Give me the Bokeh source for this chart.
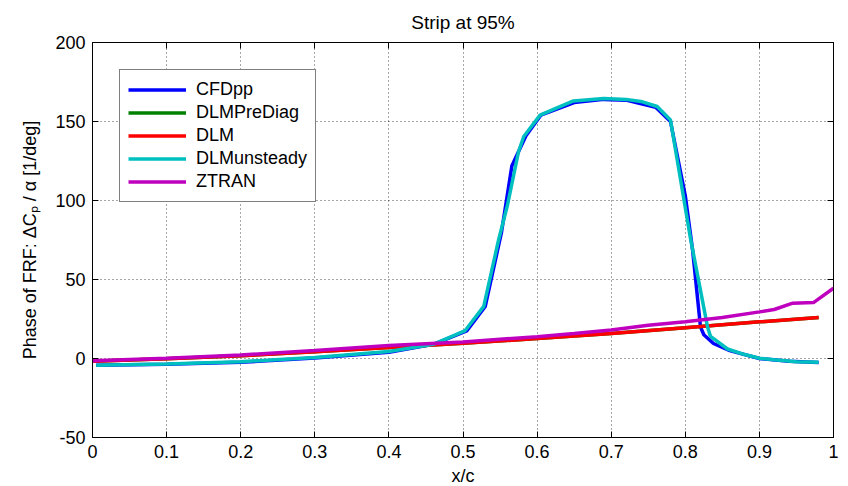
from bokeh.plotting import figure
from bokeh.models import Range1d, LinearAxis, FixedTicker, Legend
from bokeh.embed import file_html
from bokeh.resources import INLINE

FONT = "Liberation Sans"

# axis ticks
x_ticks = [0, 0.1, 0.2, 0.3, 0.4, 0.5, 0.6, 0.7, 0.8, 0.9, 1.0]
x_tick_labels = ["0", "0.1", "0.2", "0.3", "0.4", "0.5", "0.6", "0.7", "0.8", "0.9", "1"]
y_ticks = [-50, 0, 50, 100, 150, 200]
y_tick_labels = ["-50", "0", "50", "100", "150", "200"]

# CFDpp phase along the strip
cfd_x = [0.005, 0.1, 0.2, 0.3, 0.4, 0.46, 0.505, 0.53, 0.552, 0.566, 0.585, 0.605,
         0.65, 0.69, 0.72, 0.76, 0.78, 0.80, 0.81, 0.8205, 0.825, 0.838, 0.86,
         0.90, 0.94, 0.98]
cfd_y = [-4.2, -3.6, -2.4, 0.3, 4.0, 9.0, 17.5, 33.0, 80.0, 122.0, 141.0, 154.0,
         162.0, 164.0, 163.5, 159.0, 150.0, 103.0, 68.0, 20.0, 15.0, 9.5, 5.0,
         0.0, -1.8, -2.5]

# DLM (pre-diagonalised) phase
dlmpre_x = [0.0, 0.1, 0.2, 0.3, 0.4, 0.5, 0.6, 0.7, 0.8, 0.9, 0.98]
dlmpre_y = [-1.8, -0.2, 1.8, 4.2, 7.0, 9.6, 12.6, 15.8, 19.4, 23.2, 26.0]

# DLM phase
dlm_x = [0.0, 0.1, 0.2, 0.3, 0.4, 0.5, 0.6, 0.7, 0.8, 0.9, 0.98]
dlm_y = [-1.8, -0.2, 1.8, 4.2, 7.0, 9.6, 12.6, 15.8, 19.4, 23.2, 26.0]

# unsteady DLM phase
dlmu_x = [0.005, 0.1, 0.2, 0.27, 0.3, 0.4, 0.46, 0.503, 0.528, 0.548, 0.56, 0.575,
          0.582, 0.604, 0.649, 0.69, 0.72, 0.74, 0.762, 0.78, 0.807, 0.83, 0.834,
          0.857, 0.88, 0.90, 0.92, 0.95, 0.98]
dlmu_y = [-4.3, -3.5, -2.0, -0.2, 0.6, 4.4, 9.0, 17.7, 33.0, 75.0, 97.0, 131.0,
          140.5, 154.0, 163.0, 164.5, 164.0, 162.7, 159.5, 151.0, 76.0, 20.0, 14.0,
          6.0, 2.5, 0.2, -0.8, -2.0, -2.3]

# ZTRAN phase
ztran_x = [0.0, 0.1, 0.2, 0.3, 0.4, 0.5, 0.6, 0.65, 0.7, 0.75, 0.8, 0.85, 0.9,
           0.92, 0.945, 0.973, 1.0]
ztran_y = [-1.5, 0.2, 2.2, 5.0, 8.3, 10.5, 13.8, 15.8, 18.0, 21.0, 23.3, 26.0, 29.5,
           31.0, 35.0, 35.4, 44.5]

series = [
    ("CFDpp", cfd_x, cfd_y, "#0000FF"),
    ("DLMPreDiag", dlmpre_x, dlmpre_y, "#008000"),
    ("DLM", dlm_x, dlm_y, "#FF0000"),
    ("DLMunsteady", dlmu_x, dlmu_y, "#00BFBF"),
    ("ZTRAN", ztran_x, ztran_y, "#BF00BF"),
]

p = figure(frame_width=741, frame_height=395,
           x_range=Range1d(0, 1), y_range=Range1d(-50, 200),
           output_backend="svg", toolbar_location=None,
           min_border_left=92, min_border_right=15,
           min_border_top=41, min_border_bottom=50,
           title="Strip at 95%", background_fill_color="white",
           border_fill_color="white")

p.title.align = "center"
p.title.text_font = FONT
p.title.text_font_style = "normal"
p.title.text_font_size = "19px"
p.title.text_color = "black"
p.title.standoff = 19

p.outline_line_color = "black"
p.outline_line_width = 1

renderers = []
for name, xs, ys, color in series:
    r = p.line(xs, ys, line_color=color, line_width=3.5)
    renderers.append((name, [r]))

legend = Legend(items=renderers, location=(27, 235))
legend.label_text_font = FONT
legend.label_text_font_size = "18px"
legend.label_text_color = "black"
legend.glyph_width = 58
legend.glyph_height = 23
legend.label_height = 23
legend.spacing = 0
legend.padding = 8
legend.label_standoff = 10
legend.border_line_color = "black"
legend.border_line_width = 1
legend.background_fill_color = "white"
legend.background_fill_alpha = 1
p.add_layout(legend, "center")


def style_axis(ax, labels):
    ax.major_label_overrides = labels
    ax.major_label_text_font = FONT
    ax.major_label_text_font_size = "18px"
    ax.major_label_text_color = "black"
    ax.axis_line_color = "black"
    ax.major_tick_line_color = "black"
    ax.major_tick_in = 6
    ax.major_tick_out = 0
    ax.minor_tick_line_color = None
    ax.axis_label_text_font = FONT
    ax.axis_label_text_font_size = "18px"
    ax.axis_label_text_font_style = "normal"
    ax.axis_label_text_color = "black"


xa = p.xaxis[0]
xa.ticker = FixedTicker(ticks=x_ticks)
style_axis(xa, {t: s for t, s in zip(x_ticks, x_tick_labels)})
xa.axis_label = "x/c"
xa.major_label_standoff = 7
xa.axis_label_standoff = 5

ya = p.yaxis[0]
ya.ticker = FixedTicker(ticks=y_ticks)
style_axis(ya, {t: s for t, s in zip(y_ticks, y_tick_labels)})
ya.axis_label = "Phase of FRF: ΔCₚ / α [1/deg]"
ya.major_label_standoff = 7
ya.axis_label_standoff = 12

# tick marks on the opposite sides, no labels
top = LinearAxis(ticker=FixedTicker(ticks=x_ticks))
style_axis(top, {t: "" for t in x_ticks})
top.major_label_standoff = 0
p.add_layout(top, "above")
right = LinearAxis(ticker=FixedTicker(ticks=y_ticks))
style_axis(right, {t: "" for t in y_ticks})
right.major_label_standoff = 0
p.add_layout(right, "right")

for g in (p.xgrid[0], p.ygrid[0]):
    g.grid_line_color = "#000000"
    g.grid_line_alpha = 0.7
    g.grid_line_dash = "1 3"
    g.grid_line_width = 1
p.xgrid[0].ticker = FixedTicker(ticks=x_ticks)
p.ygrid[0].ticker = FixedTicker(ticks=y_ticks)

open("out.html", "w").write(file_html(p, INLINE))
